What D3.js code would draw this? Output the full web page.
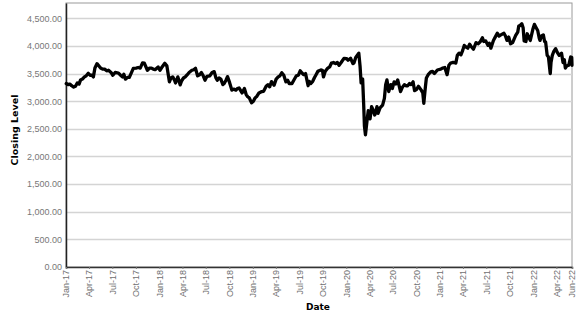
<!DOCTYPE html>
<html>
<head>
<meta charset="utf-8">
<script src="https://cdn.jsdelivr.net/npm/d3@7"></script>
<style>
	body { margin: 0; background: #fff; }
	svg { display: block; font-family: "DejaVu Sans", Verdana, sans-serif; }
</style>
</head>
<body>
<svg id="chart" width="577" height="315"></svg>
<script>
// closing levels
var dates = [
	"2017-01-02","2017-01-09","2017-01-16","2017-01-23","2017-01-31","2017-02-07","2017-02-14","2017-02-21","2017-02-27","2017-03-06",
	"2017-03-14","2017-03-21","2017-03-29","2017-04-05","2017-04-12","2017-04-18","2017-04-24","2017-05-02","2017-05-09","2017-05-16",
	"2017-05-24","2017-06-01","2017-06-09","2017-06-16","2017-06-26","2017-07-03","2017-07-12","2017-07-25","2017-08-02","2017-08-10",
	"2017-08-15","2017-08-21","2017-08-29","2017-09-05","2017-09-12","2017-09-21","2017-10-02","2017-10-10","2017-10-18","2017-10-27",
	"2017-11-03","2017-11-15","2017-11-24","2017-12-01","2017-12-08","2017-12-15","2017-12-27",
	"2018-01-03","2018-01-10","2018-01-22","2018-01-30","2018-02-09","2018-02-15","2018-02-22","2018-03-01","2018-03-05","2018-03-14",
	"2018-03-23","2018-03-29","2018-04-05","2018-04-12","2018-04-19","2018-04-27","2018-05-08","2018-05-15","2018-05-22","2018-05-30",
	"2018-06-07","2018-06-14","2018-06-20","2018-06-28","2018-07-06","2018-07-17","2018-07-26","2018-08-03","2018-08-10","2018-08-15",
	"2018-08-22","2018-08-29","2018-09-06","2018-09-11","2018-09-18","2018-09-24","2018-10-02","2018-10-11","2018-10-18","2018-10-27",
	"2018-11-02","2018-11-08","2018-11-20","2018-11-29","2018-12-06","2018-12-12","2018-12-18","2018-12-27",
	"2019-01-03","2019-01-10","2019-01-17","2019-01-25","2019-02-05","2019-02-12","2019-02-22","2019-03-01","2019-03-08","2019-03-15",
	"2019-03-25","2019-04-02","2019-04-10","2019-04-17","2019-04-24","2019-05-02","2019-05-10","2019-05-17","2019-05-23","2019-06-03",
	"2019-06-10","2019-06-20","2019-06-28","2019-07-05","2019-07-12","2019-07-19","2019-07-26","2019-08-05","2019-08-09","2019-08-15",
	"2019-08-23","2019-08-30","2019-09-05","2019-09-12","2019-09-24","2019-09-30","2019-10-04","2019-10-11","2019-10-21","2019-10-28",
	"2019-11-04","2019-11-12","2019-11-20","2019-11-27","2019-12-04","2019-12-12","2019-12-23",
	"2020-01-03","2020-01-08","2020-01-18","2020-01-27","2020-01-31","2020-02-07","2020-02-19","2020-02-24","2020-02-28","2020-03-05",
	"2020-03-09","2020-03-12","2020-03-16","2020-03-24","2020-03-27","2020-04-03","2020-04-09","2020-04-14","2020-04-21","2020-04-24",
	"2020-04-30","2020-05-04","2020-05-12","2020-05-22","2020-05-29","2020-06-03","2020-06-08","2020-06-15","2020-06-23","2020-06-29",
	"2020-07-06","2020-07-13","2020-07-20","2020-07-31","2020-08-07","2020-08-15","2020-08-21","2020-08-28","2020-09-04","2020-09-10",
	"2020-09-18","2020-09-24","2020-10-01","2020-10-09","2020-10-20","2020-10-26","2020-10-30","2020-11-05","2020-11-09","2020-11-16",
	"2020-11-26","2020-12-03","2020-12-10","2020-12-22",
	"2021-01-04","2021-01-11","2021-01-20","2021-01-29","2021-02-05","2021-02-12","2021-02-19","2021-02-25","2021-03-04","2021-03-10",
	"2021-03-17","2021-03-24","2021-03-31","2021-04-06","2021-04-13","2021-04-20","2021-04-27","2021-05-03","2021-05-12","2021-05-22",
	"2021-05-31","2021-06-08","2021-06-16","2021-06-21","2021-06-29","2021-07-08","2021-07-13","2021-07-19","2021-07-29","2021-08-05",
	"2021-08-13","2021-08-20","2021-08-27","2021-09-08","2021-09-14","2021-09-20","2021-09-27","2021-10-04","2021-10-12","2021-10-24",
	"2021-11-01","2021-11-05","2021-11-10","2021-11-17","2021-11-22","2021-11-26","2021-12-03","2021-12-08","2021-12-16","2021-12-20",
	"2021-12-30",
	"2022-01-05","2022-01-12","2022-01-18","2022-01-24","2022-01-27","2022-02-02","2022-02-09","2022-02-14","2022-02-18","2022-02-24",
	"2022-03-01","2022-03-08","2022-03-11","2022-03-16","2022-03-22","2022-03-29","2022-04-05","2022-04-12","2022-04-21","2022-04-27",
	"2022-05-02","2022-05-06","2022-05-12","2022-05-19","2022-05-27","2022-05-31","2022-06-01"
]
var closes = [
	3320,3300,3310,3280,3255,3270,3330,3310,3385,3400,
	3440,3460,3505,3470,3470,3440,3600,3680,3640,3600,
	3580,3580,3550,3560,3520,3470,3520,3510,3470,3440,
	3490,3400,3430,3430,3500,3595,3600,3610,3600,3695,
	3690,3560,3600,3600,3580,3570,3620,
	3560,3610,3685,3640,3350,3420,3440,3380,3330,3440,
	3295,3370,3420,3440,3475,3520,3560,3570,3595,3460,
	3480,3520,3470,3380,3450,3460,3520,3535,3420,3380,
	3420,3400,3300,3320,3380,3445,3340,3200,3220,3200,
	3230,3240,3150,3230,3120,3080,3060,2970,
	3000,3060,3090,3150,3175,3180,3270,3300,3260,3355,
	3290,3400,3440,3460,3515,3470,3350,3380,3320,3320,
	3380,3460,3470,3550,3510,3480,3500,3280,3360,3320,
	3360,3430,3480,3540,3565,3560,3440,3540,3600,3620,
	3690,3700,3680,3700,3650,3700,3776,
	3770,3740,3776,3680,3690,3790,3870,3630,3330,3400,
	2950,2550,2390,2720,2830,2680,2900,2850,2750,2780,
	2900,2780,2880,2930,3050,3300,3385,3175,3300,3230,
	3350,3310,3385,3175,3250,3300,3280,3280,3320,3300,
	3350,3190,3210,3270,3200,3150,2960,3250,3420,3480,
	3530,3540,3500,3565,
	3580,3600,3610,3480,3650,3690,3700,3700,3690,3830,
	3870,3840,3920,4010,3980,3960,4030,3990,3940,4060,
	4040,4080,4150,4080,4090,4010,4050,3960,4100,4160,
	4230,4180,4200,4230,4180,4100,4160,4040,4060,4190,
	4250,4360,4370,4400,4330,4090,4080,4220,4140,4100,
	4300,
	4390,4330,4280,4140,4100,4180,4200,4080,4070,3830,
	3800,3500,3700,3830,3900,3950,3880,3830,3870,3700,
	3750,3600,3640,3650,3800,3790,3650
]
var yTicks = [0, 500, 1000, 1500, 2000, 2500, 3000, 3500, 4000, 4500]
var xTickDates = [
	"2017-01-01","2017-04-01","2017-07-01","2017-10-01","2018-01-01","2018-04-01","2018-07-01","2018-10-01",
	"2019-01-01","2019-04-01","2019-07-01","2019-10-01","2020-01-01","2020-04-01","2020-07-01","2020-10-01",
	"2021-01-01","2021-04-01","2021-07-01","2021-10-01","2022-01-01","2022-04-01","2022-06-01"
]

var parse = d3.timeParse("%Y-%m-%d")
var data = dates.map(function(d, i) { return {date: parse(d), close: closes[i]} })

var geom = {left: 66, right: 572, top: 3, bottom: 267}
var svg = d3.select("#chart")

var x = d3.scaleTime()
	.domain([parse("2017-01-01"), parse("2022-06-01")])
	.range([geom.left, geom.right])
var y = d3.scaleLinear()
	.domain([0, 4777])
	.range([geom.bottom, geom.top])

// frame (top / right)
svg.append("rect")
	.attr("x", geom.left).attr("y", geom.top)
	.attr("width", geom.right - geom.left).attr("height", geom.bottom - geom.top)
	.attr("fill", "none").attr("stroke", "#9a9a9a").attr("stroke-width", 1)

// gridlines
svg.append("g")
	.selectAll("line")
	.data(yTicks.filter(function(t) { return t > 0 }))
	.enter()
	.append("line")
	.attr("x1", geom.left).attr("x2", geom.right)
	.attr("y1", function(t) { return Math.round(y(t)) + 0.5 })
	.attr("y2", function(t) { return Math.round(y(t)) + 0.5 })
	.attr("stroke", "#d4d4d4").attr("stroke-width", 1.5)

// y axis
var yAxis = svg.append("g")
	.attr("transform", "translate(" + geom.left + ",0)")
	.call(d3.axisLeft(y).tickValues(yTicks).tickSize(0).tickPadding(4).tickFormat(d3.format(",.2f")))
yAxis.select(".domain").attr("stroke", "#222").attr("stroke-width", 1.5)
yAxis.selectAll("text").attr("fill", "#777").style("font-size", "9px").attr("font-family", null)

// x axis
var xAxis = svg.append("g")
	.attr("transform", "translate(0," + geom.bottom + ")")
	.call(d3.axisBottom(x).tickValues(xTickDates.map(parse)).tickSize(2).tickFormat(d3.timeFormat("%b-%y")))
xAxis.select(".domain").attr("stroke", "#333").attr("stroke-width", 1.5)
xAxis.selectAll(".tick line").attr("stroke", "#777")
xAxis.selectAll("text")
	.attr("fill", "#707070")
	.style("font-size", "9px")
	.attr("font-family", null)
	.attr("text-anchor", "end")
	.attr("transform", "rotate(-90)")
	.attr("x", -3).attr("y", 0).attr("dy", "0.32em")

// series
var line = d3.line()
	.x(function(d) { return x(d.date) })
	.y(function(d) { return y(d.close) })
svg.append("path")
	.datum(data)
	.attr("d", line)
	.attr("fill", "none")
	.attr("stroke", "#000")
	.attr("stroke-width", 3.3)
	.attr("stroke-linejoin", "round")
	.attr("stroke-linecap", "round")

// axis titles
svg.append("text")
	.attr("x", 318).attr("y", 310)
	.attr("text-anchor", "middle")
	.style("font-size", "9px").style("font-weight", "bold")
	.text("Date")
svg.append("text")
	.attr("transform", "translate(18,130) rotate(-90)")
	.attr("text-anchor", "middle")
	.style("font-size", "9.5px").style("font-weight", "bold")
	.text("Closing Level")
</script>
</body>
</html>
